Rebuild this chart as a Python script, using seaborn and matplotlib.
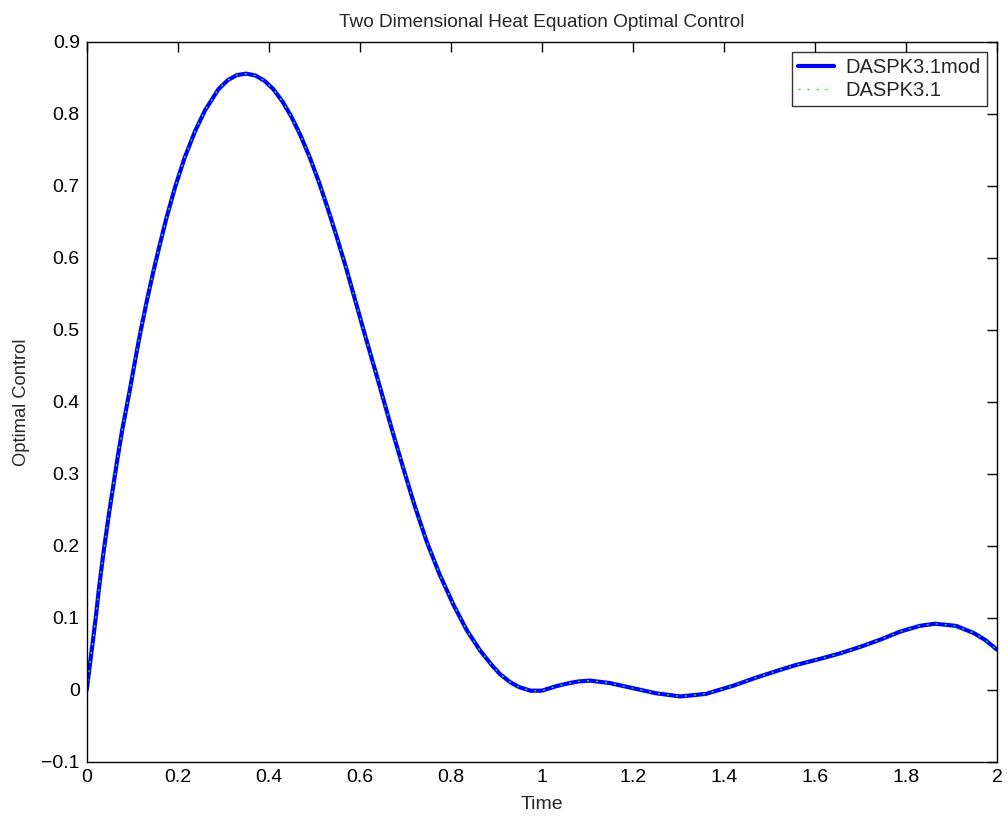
import numpy as np
import pandas as pd
import matplotlib
matplotlib.use("Agg")
import matplotlib.pyplot as plt
import seaborn as sns
from matplotlib.ticker import FuncFormatter

# Data
time = [0.0, 0.01, 0.0198, 0.0277, 0.0367, 0.049, 0.058, 0.067, 0.078, 0.096,
        0.1105, 0.119, 0.132, 0.146, 0.16, 0.175, 0.194, 0.215, 0.238, 0.26,
        0.289, 0.31, 0.33, 0.35, 0.37, 0.39, 0.41, 0.43, 0.45, 0.47,
        0.49, 0.51, 0.53, 0.55, 0.57, 0.59, 0.61, 0.63, 0.645, 0.67,
        0.696, 0.72, 0.747, 0.775, 0.806, 0.835, 0.864, 0.89, 0.908, 0.93,
        0.95, 0.975, 1.0, 1.03, 1.06, 1.08, 1.106, 1.15, 1.2, 1.25,
        1.304, 1.36, 1.421, 1.47, 1.524, 1.56, 1.61, 1.656, 1.70, 1.744,
        1.787, 1.83, 1.864, 1.91, 1.949, 1.975, 2.0]
control = [0.0, 0.05, 0.1, 0.145, 0.19, 0.245, 0.282, 0.319, 0.361, 0.421,
           0.472, 0.5, 0.54, 0.58, 0.617, 0.655, 0.698, 0.739, 0.776, 0.805,
           0.834, 0.847, 0.854, 0.856, 0.8536, 0.8464, 0.8344, 0.8174, 0.7958, 0.7698,
           0.7398, 0.7058, 0.668, 0.628, 0.586, 0.541, 0.496, 0.452, 0.419, 0.363,
           0.307, 0.257, 0.206, 0.161, 0.118, 0.083, 0.055, 0.0345, 0.022, 0.011,
           0.004, -0.001, -0.001, 0.005, 0.0095, 0.0118, 0.013, 0.0095, 0.0025, -0.0045,
           -0.009, -0.0055, 0.006, 0.017, 0.028, 0.035, 0.043, 0.051, 0.060, 0.070,
           0.081, 0.089, 0.092, 0.089, 0.079, 0.069, 0.056]
series_names = ["DASPK3.1mod", "DASPK3.1"]
title_text = "Two Dimensional Heat Equation Optimal Control"
x_label = "Time"
y_label = "Optimal Control"

sns.set_style("white")
plt.rcParams['font.family'] = ['Liberation Sans', 'DejaVu Sans']
plt.rcParams['axes.unicode_minus'] = True

fig = plt.figure(figsize=(10.07, 8.18), dpi=100)
ax = fig.add_axes([0.0861, 0.0685, 0.9040, 0.8802])

df = pd.DataFrame({"Time": time, "Optimal Control": control})
sns.lineplot(data=df, x="Time", y="Optimal Control", ax=ax, color="#0000ff",
             linewidth=3.0, label=series_names[0], sort=False)
sns.lineplot(data=df, x="Time", y="Optimal Control", ax=ax, color="#00ff00",
             linewidth=1.0, linestyle=(0, (1.5, 5)), label=series_names[1], sort=False)

ax.set_xlim(0, 2)
ax.set_ylim(-0.1, 0.9)
ax.set_xticks(np.arange(0, 2.01, 0.2))
ax.set_yticks(np.arange(-0.1, 0.91, 0.1))

def fmt(v, pos):
    s = "%g" % round(v, 6)
    if s == "-0":
        s = "0"
    return s.replace("-", "\u2212")

ax.xaxis.set_major_formatter(FuncFormatter(fmt))
ax.yaxis.set_major_formatter(FuncFormatter(fmt))
ax.tick_params(direction="in", length=7, width=1, top=True, right=True,
               labelsize=14, colors="black", pad=5)
for sp in ax.spines.values():
    sp.set_color("black")
    sp.set_linewidth(1.0)

ax.set_title(title_text, fontsize=13.7, pad=11)
ax.set_xlabel(x_label, fontsize=14, labelpad=7)
ax.set_ylabel(y_label, fontsize=13.2, labelpad=8)

leg = ax.legend(loc="upper right", fontsize=14.5, frameon=True, fancybox=False,
                borderpad=0.3, handlelength=1.75, handletextpad=0.6,
                borderaxespad=0.5, labelspacing=0.2)
leg.get_frame().set_edgecolor("black")
leg.get_frame().set_linewidth(1.0)

fig.savefig("out.png", dpi=100, facecolor="white")
